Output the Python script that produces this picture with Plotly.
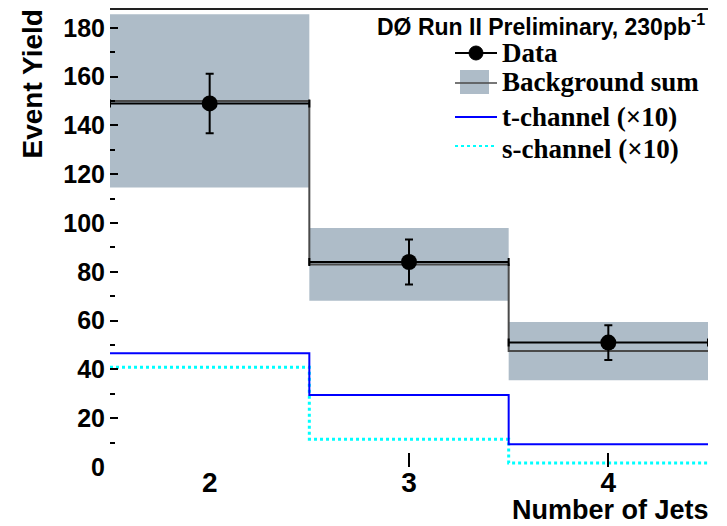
import plotly.graph_objects as go

# ---- data ----
njets = [2, 3, 4]
data_vals = [149, 84, 51]
data_err = [12.2, 9.2, 7.1]
bkg_vals = [150, 83, 47.5]
bkg_err = [35.5, 14.9, 11.9]
tchan_vals = [46.6, 29.5, 9.3]
schan_vals = [40.9, 11.4, 1.6]
ytick_vals = [0, 20, 40, 60, 80, 100, 120, 140, 160, 180]
xtick_labels = ["2", "3", "4"]

SANS = "Liberation Sans, Arial, sans-serif"
SERIF = "Liberation Serif, Times New Roman, serif"
BAND = "#AEBCC8"
BKGLINE = "#4a4a4a"

edges = [n - 0.5 for n in njets] + [njets[-1] + 0.5]
half_w = [0.5 for _ in njets]

def step(vals):
    return vals + [vals[-1]]

fig = go.Figure()

# background uncertainty band
fig.add_trace(go.Bar(
    x=njets, y=[2 * e for e in bkg_err], base=[v - e for v, e in zip(bkg_vals, bkg_err)],
    width=1.0, marker=dict(color=BAND, line=dict(width=0)), showlegend=False, hoverinfo="skip"))

# background sum step line
fig.add_trace(go.Scatter(x=edges, y=step(bkg_vals), mode="lines", line_shape="hv",
                         line=dict(color=BKGLINE, width=2), showlegend=False))

# s-channel
fig.add_trace(go.Scatter(x=edges, y=step(schan_vals), mode="lines", line_shape="hv",
                         line=dict(color="#00FFFF", width=3, dash="dot"), showlegend=False))
# t-channel
fig.add_trace(go.Scatter(x=edges, y=step(tchan_vals), mode="lines", line_shape="hv",
                         line=dict(color="#0000FF", width=2), showlegend=False))

# data
fig.add_trace(go.Scatter(
    x=njets, y=data_vals, mode="markers",
    marker=dict(color="black", size=16),
    error_y=dict(type="data", array=data_err, color="black", thickness=2, width=4),
    error_x=dict(type="data", array=half_w, color="black", thickness=2, width=4),
    showlegend=False))

# invisible trace for secondary x axis ticks
fig.add_trace(go.Scatter(x=[3, 4], y=[0, 0], xaxis="x2", mode="markers",
                         marker=dict(opacity=0), showlegend=False, hoverinfo="skip"))

# page is offset by the 8px body margin
OFF = 8
W, H = 727 - OFF, 526 - OFF
L, R, T, B = 102, 19, 1, 59
pw, ph = W - L - R, H - T - B

def px(x):  # page pixel -> paper
    return (x - OFF - L) / pw

def py(y):
    return (H - B - (y - OFF)) / ph

fig.update_layout(
    width=W, height=H,
    margin=dict(l=L, r=R, t=T, b=B, autoexpand=False),
    paper_bgcolor="white", plot_bgcolor="white",
    barmode="overlay",
    xaxis=dict(range=[edges[0], edges[-1]], tickvals=njets, ticktext=xtick_labels,
               ticks="", showgrid=False, zeroline=False, showline=False,
               tickfont=dict(family=SANS, size=28, color="black", weight="bold"), ticklabelstandoff=-4),
    xaxis2=dict(overlaying="x", matches="x", tickvals=[3, 4], ticks="inside", ticklen=14,
                tickwidth=1.5, tickcolor="black", showticklabels=False, showgrid=False,
                zeroline=False, showline=False, side="bottom"),
    yaxis=dict(range=[0, 187.7], tickvals=ytick_vals, ticks="inside", ticklen=8, tickwidth=1.5,
               tickcolor="black", showgrid=False, zeroline=False, showline=False,
               tickfont=dict(family=SANS, size=25, color="black", weight="bold"), ticklabelstandoff=4,
               minor=dict(ticks="inside", ticklen=5, tickcolor="black", dtick=10, showgrid=False)),
    font=dict(family=SANS, color="black"),
)

shapes = []
# top frame line
shapes.append(dict(type="line", xref="paper", yref="paper", x0=0, x1=1, y0=py(9), y1=py(9),
                   line=dict(color="#222222", width=2)))
# legend symbols
shapes.append(dict(type="line", xref="paper", yref="paper", x0=px(455), x1=px(497), y0=py(53), y1=py(53),
                   line=dict(color="black", width=2)))
shapes.append(dict(type="circle", xref="paper", yref="paper", x0=px(469), x1=px(483), y0=py(60), y1=py(46),
                   fillcolor="black", line=dict(color="black", width=1)))
shapes.append(dict(type="rect", xref="paper", yref="paper", x0=px(460), x1=px(489), y0=py(94), y1=py(70),
                   fillcolor=BAND, line=dict(width=0)))
shapes.append(dict(type="line", xref="paper", yref="paper", x0=px(455), x1=px(497), y0=py(83), y1=py(83),
                   line=dict(color=BKGLINE, width=1.5)))
shapes.append(dict(type="line", xref="paper", yref="paper", x0=px(455), x1=px(497), y0=py(117), y1=py(117),
                   line=dict(color="#0000FF", width=2)))
shapes.append(dict(type="line", xref="paper", yref="paper", x0=px(455), x1=px(497), y0=py(146), y1=py(146),
                   line=dict(color="#00FFFF", width=2, dash="dot")))
fig.update_layout(shapes=shapes)

ann = []
ann.append(dict(text="<b>DØ Run II Preliminary, 230pb<sup>-1</sup></b>", xref="paper", yref="paper",
                x=px(707), y=py(25), xanchor="right", yanchor="middle", showarrow=False,
                font=dict(family=SANS, size=23, color="black")))
for label, yc in [("Data", 53), ("Background sum", 82), ("t-channel (×10)", 117), ("s-channel (×10)", 149)]:
    ann.append(dict(text="<b>" + label + "</b>", xref="paper", yref="paper", x=px(500), y=py(yc),
                    xanchor="left", yanchor="middle", showarrow=False,
                    font=dict(family=SERIF, size=27, color="black")))
ann.append(dict(text="<b>Event Yield</b>", xref="paper", yref="paper", x=px(32), y=py(8),
                xanchor="center", yanchor="top", textangle=-90, showarrow=False,
                font=dict(family=SANS, size=28, color="black")))
ann.append(dict(text="<b>Number of Jets</b>", xref="paper", yref="paper", x=px(711), y=py(510),
                xanchor="right", yanchor="middle", showarrow=False,
                font=dict(family=SANS, size=27, color="black")))
fig.update_layout(annotations=ann)

fig.write_html("out.html")
